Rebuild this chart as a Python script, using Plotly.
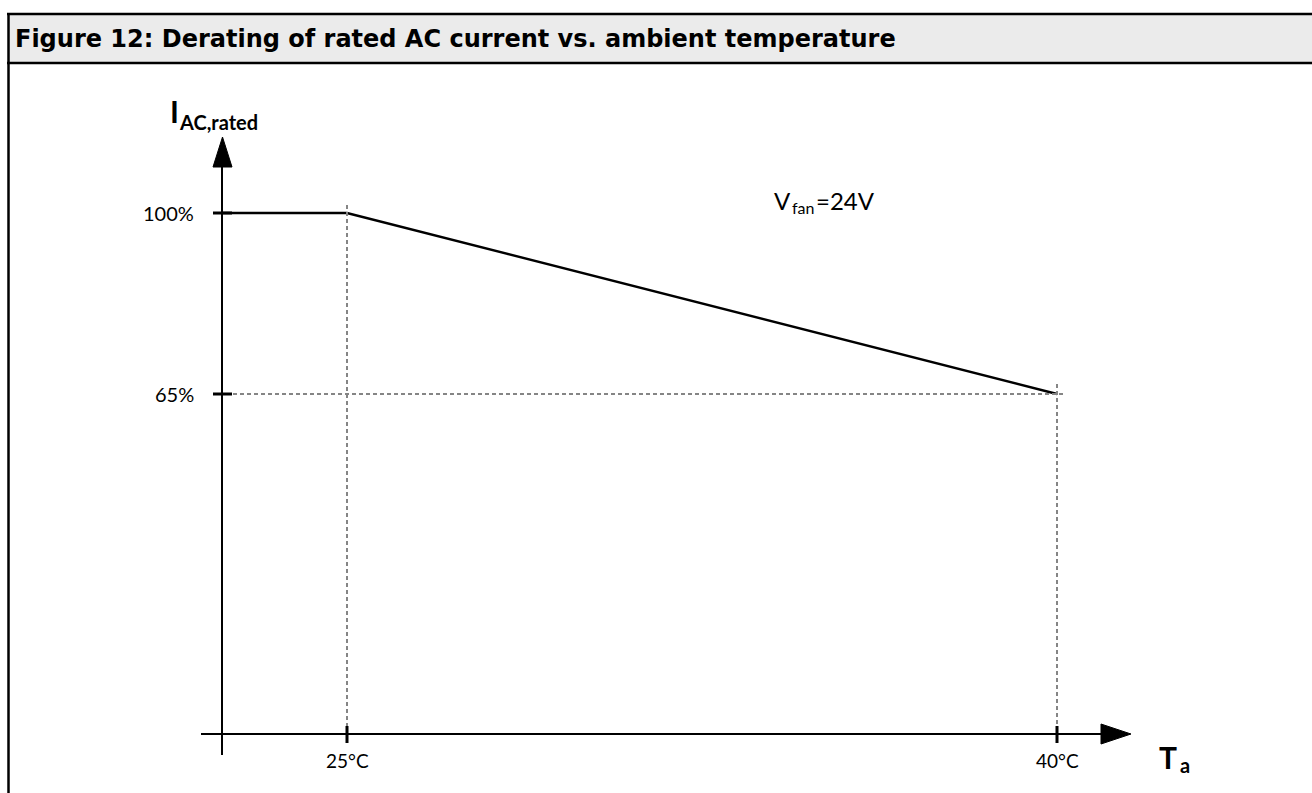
import plotly.graph_objects as go

# ---------------- data ----------------
derating_temps_c = [25, 40]          # breakpoints of the derating curve (°C)
derating_pct = [100, 65]             # rated AC current at those points (%)
y_tick_vals = [100, 65]
y_tick_labels = ["100%", "65%"]
x_tick_vals = [25, 40]
x_tick_labels = ["25°C", "40°C"]
title_text = "Figure 12: Derating of rated AC current vs. ambient temperature"
fan_label = "24V"

# ---------------- layout helpers ----------------
W, H = 1312, 793
PX25, PX40 = 347, 1057      # pixel columns of 25 / 40 °C
PY100, PY65 = 213, 394      # pixel rows of 100 % / 65 %


def T(px):
    return 25 + (px - PX25) * 15.0 / (PX40 - PX25)


def P(py):
    return 100 - (py - PY100) * 35.0 / (PY65 - PY100)


def fx(px):
    return px / W


def fy(py):
    return 1 - py / H


AX_X_PX = 222     # y-axis column
AX_Y_PX = 734     # x-axis row
origin_t = T(AX_X_PX)

fig = go.Figure()

# derating curve
fig.add_trace(go.Scatter(
    x=[origin_t] + derating_temps_c,
    y=[derating_pct[0]] + derating_pct,
    mode="lines",
    line=dict(color="black", width=2.5),
    hoverinfo="skip",
    showlegend=False,
))

shapes = []
GREY = "#858585"
DOT = "4px,3px"

# title band
shapes.append(dict(type="rect", xref="paper", yref="paper",
                   x0=fx(8), x1=fx(W + 5), y0=fy(63), y1=fy(14),
                   fillcolor="#ebebeb", line=dict(width=0), layer="below"))
shapes.append(dict(type="line", xref="paper", yref="paper",
                   x0=fx(7), x1=fx(W + 5), y0=fy(14), y1=fy(14),
                   line=dict(color="black", width=2.5)))
shapes.append(dict(type="line", xref="paper", yref="paper",
                   x0=fx(7), x1=fx(W + 5), y0=fy(63), y1=fy(63),
                   line=dict(color="black", width=2.5)))
shapes.append(dict(type="line", xref="paper", yref="paper",
                   x0=fx(8.5), x1=fx(8.5), y0=fy(13), y1=fy(H + 5),
                   line=dict(color="black", width=2.5)))

# dotted guides
shapes.append(dict(type="line", x0=derating_temps_c[0], x1=derating_temps_c[0],
                   y0=P(205), y1=P(726), line=dict(color=GREY, width=2, dash=DOT)))
shapes.append(dict(type="line", x0=derating_temps_c[1], x1=derating_temps_c[1],
                   y0=P(384), y1=P(726), line=dict(color=GREY, width=2, dash=DOT)))
shapes.append(dict(type="line", x0=T(233), x1=T(1066),
                   y0=derating_pct[1], y1=derating_pct[1],
                   line=dict(color=GREY, width=2, dash=DOT)))

# axes
shapes.append(dict(type="line", x0=origin_t, x1=origin_t, y0=P(755), y1=P(166),
                   line=dict(color="black", width=2)))
shapes.append(dict(type="line", x0=T(201), x1=T(1102), y0=P(AX_Y_PX), y1=P(AX_Y_PX),
                   line=dict(color="black", width=2)))
# arrow heads
shapes.append(dict(type="path",
                   path=f"M {T(213)},{P(167)} L {T(232)},{P(167)} L {T(222.5)},{P(137)} Z",
                   fillcolor="black", line=dict(color="black", width=1)))
shapes.append(dict(type="path",
                   path=f"M {T(1101)},{P(724)} L {T(1101)},{P(744)} L {T(1131)},{P(734)} Z",
                   fillcolor="black", line=dict(color="black", width=1)))

# ticks
for v in y_tick_vals:
    shapes.append(dict(type="line", x0=T(213), x1=T(232), y0=v, y1=v,
                       line=dict(color="black", width=3)))
for v in x_tick_vals:
    shapes.append(dict(type="line", x0=v, x1=v, y0=P(726), y1=P(743),
                       line=dict(color="black", width=3)))

ann = []
FONT = "Lato"

# title
ann.append(dict(xref="paper", yref="paper", x=fx(13), y=fy(39), xanchor="left", yanchor="middle",
                text="<b>" + title_text + "</b>", showarrow=False,
                font=dict(family="DejaVu Sans", size=24, color="black")))

# tick labels
for v, lab in zip(y_tick_vals, y_tick_labels):
    ann.append(dict(x=T(196), y=v, xanchor="right", yanchor="middle", text=lab,
                    showarrow=False, font=dict(family=FONT, size=20, color="black")))
for v, lab in zip(x_tick_vals, x_tick_labels):
    ann.append(dict(x=v, y=P(760), xanchor="center", yanchor="middle", text=lab,
                    showarrow=False, font=dict(family=FONT, size=19, color="black")))

# axis labels
ann.append(dict(x=T(168), y=P(111), xanchor="left", yanchor="middle", text="<b>I</b>",
                showarrow=False, font=dict(family=FONT, size=30, color="black")))
ann.append(dict(x=T(177), y=P(122), xanchor="left", yanchor="middle", text="<b>AC,rated</b>",
                showarrow=False, font=dict(family=FONT, size=20, color="black")))
ann.append(dict(x=T(1157), y=P(757), xanchor="left", yanchor="middle", text="<b>T</b>",
                showarrow=False, font=dict(family=FONT, size=30, color="black")))
ann.append(dict(x=T(1178), y=P(765), xanchor="left", yanchor="middle", text="<b>a</b>",
                showarrow=False, font=dict(family=FONT, size=20, color="black")))

# fan voltage label
ann.append(dict(x=T(772), y=P(200), xanchor="left", yanchor="middle", text="V",
                showarrow=False, font=dict(family=FONT, size=24, color="black")))
ann.append(dict(x=T(790), y=P(207), xanchor="left", yanchor="middle", text="fan",
                showarrow=False, font=dict(family=FONT, size=16, color="black")))
ann.append(dict(x=T(814), y=P(200), xanchor="left", yanchor="middle", text="=" + fan_label,
                showarrow=False, font=dict(family=FONT, size=24, color="black")))

fig.update_layout(
    width=W, height=H,
    margin=dict(l=0, r=0, t=0, b=0),
    paper_bgcolor="white", plot_bgcolor="white",
    xaxis=dict(range=[T(0), T(W)], visible=False, fixedrange=True),
    yaxis=dict(range=[P(H), P(0)], visible=False, fixedrange=True),
    shapes=shapes, annotations=ann, showlegend=False,
)

fig.write_html("out.html", config={"displayModeBar": False},
               post_script="document.body.style.margin='0';document.body.style.overflow='hidden';")
